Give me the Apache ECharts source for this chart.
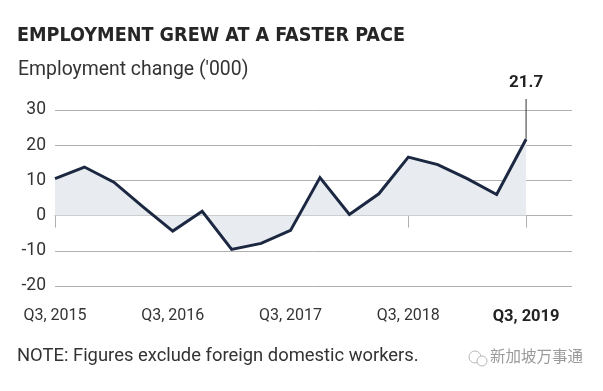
<!DOCTYPE html>
<html>
<head>
<meta charset="utf-8">
<script src="https://cdn.jsdelivr.net/npm/echarts@6/dist/echarts.min.js"></script>
<style>html,body{margin:0;padding:0;background:#fff}#c{width:603px;height:391px}</style>
</head>
<body>
<div id="c"></div>
<script>
const titleText = "EMPLOYMENT GREW AT A FASTER PACE";
const subtitleText = "Employment change ('000)";
const noteText = "NOTE: Figures exclude foreign domestic workers.";
const watermarkText = "新加坡万事通";
const quarters = ["Q3, 2015","Q4, 2015","Q1, 2016","Q2, 2016","Q3, 2016","Q4, 2016","Q1, 2017","Q2, 2017","Q3, 2017","Q4, 2017","Q1, 2018","Q2, 2018","Q3, 2018","Q4, 2018","Q1, 2019","Q2, 2019","Q3, 2019"];
const employmentChange = [10.5, 13.8, 9.5, 2.4, -4.4, 1.2, -9.6, -7.9, -4.2, 10.8, 0.3, 6.2, 16.6, 14.5, 10.5, 6.0, 21.7];
const labelIndices = [0, 4, 8, 12, 16];
const yTicks = [-20, -10, 0, 10, 20, 30];

const chart = echarts.init(document.getElementById('c'), null, {renderer: 'canvas'});
const lastIdx = employmentChange.length - 1;
const seriesData = employmentChange.map((v, i) => [i, v]);
const FONT = 'Roboto, "Noto Sans", sans-serif';
const TITLE_FONT = 'bold 19.6px "Liberation Sans Narrow", "DejaVu Sans Condensed", sans-serif';

chart.setOption({
  animation: false,
  backgroundColor: '#ffffff',
  grid: {left: 55, right: 31, top: 110, bottom: 105},
  xAxis: {
    type: 'value', min: 0, max: 17.56,
    axisLine: {show: true, lineStyle: {color: '#b0b0b0', width: 1}},
    axisTick: {show: true, length: 12, lineStyle: {color: '#b0b0b0'}, customValues: labelIndices},
    splitLine: {show: false},
    axisLabel: {
      customValues: labelIndices, margin: 22,
      fontFamily: FONT, fontSize: 16, color: '#333',
      formatter: v => { const i = Math.round(v); return i === lastIdx ? '{b|' + quarters[i] + '}' : quarters[i]; },
      rich: {b: {fontFamily: FONT, fontSize: 16.5, fontWeight: 'bold', color: '#222'}}
    }
  },
  yAxis: {
    type: 'value', min: yTicks[0], max: yTicks[yTicks.length - 1], interval: 10,
    axisLine: {show: false}, axisTick: {show: false},
    splitLine: {lineStyle: {color: '#b0b0b0', width: 1}},
    axisLabel: {margin: 9, fontFamily: FONT, fontSize: 17.5, color: '#333'}
  },
  series: [{
    type: 'line', data: seriesData, symbol: 'none',
    lineStyle: {color: '#1c2841', width: 3, join: 'miter'},
    areaStyle: {color: '#e8ecf0', opacity: 1, origin: 0},
    z: 3
  }]
});

const p = chart.convertToPixel({gridIndex: 0}, [lastIdx, employmentChange[lastIdx]]);
chart.setOption({
  graphic: [
    {type: 'text', left: 17, top: 26, style: {text: titleText, font: TITLE_FONT, fill: '#262626'}},
    {type: 'text', left: 18, top: 61, style: {text: subtitleText, font: '19.4px ' + FONT, fill: '#333'}},
    {type: 'text', left: 17, top: 347, style: {text: noteText, font: '18.4px ' + FONT, fill: '#333'}},
    {type: 'circle', shape: {cx: 475, cy: 357, r: 6}, style: {fill: 'none', stroke: '#b8b8b8', lineWidth: 1}},
    {type: 'circle', shape: {cx: 482, cy: 361, r: 5}, style: {fill: '#fff', stroke: '#b8b8b8', lineWidth: 1}},
    {type: 'text', left: 490, top: 348, style: {text: watermarkText, font: '15.5px "Noto Sans CJK SC"', fill: '#9a9a9a'}},
    {type: 'line', shape: {x1: p[0], y1: 99, x2: p[0], y2: p[1]}, style: {stroke: '#333', lineWidth: 1}, z: 2},
    {type: 'text', x: p[0], y: 83, style: {text: String(employmentChange[lastIdx]), font: 'bold 17px ' + FONT, fill: '#222', align: 'center', verticalAlign: 'middle'}}
  ]
});
</script>
</body>
</html>
